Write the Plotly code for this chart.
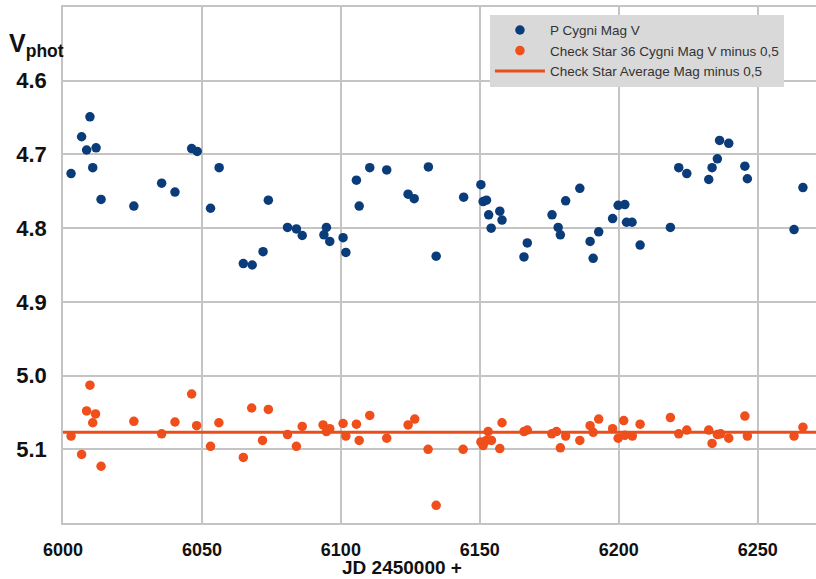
import plotly.graph_objects as go

# P Cygni Mag V
pcyg_jd = [6002.9, 6006.7, 6009.7, 6008.5, 6011.9, 6010.7, 6013.7, 6025.5, 6035.5, 6040.3,
           6046.3, 6048.3, 6053.1, 6056.2, 6064.9, 6068.1, 6072.0, 6073.9, 6080.8, 6084.0,
           6086.1, 6093.9, 6094.8, 6096.0, 6100.8, 6101.8, 6105.6, 6106.6, 6110.4, 6116.5,
           6124.2, 6126.4, 6131.5, 6134.3, 6144.2, 6150.4, 6151.2, 6152.4, 6153.2, 6154.1,
           6157.2, 6158.0, 6165.9, 6167.1, 6176.0, 6178.2, 6179.0, 6180.9, 6186.0, 6189.7,
           6190.8, 6192.8, 6197.8, 6199.8, 6202.2, 6202.8, 6204.8, 6207.7, 6218.6, 6221.6,
           6224.5, 6232.4, 6233.6, 6235.5, 6236.3, 6239.6, 6245.4, 6246.3, 6263.1, 6266.3]
pcyg_mag = [4.726, 4.676, 4.649, 4.694, 4.691, 4.718, 4.761, 4.770, 4.739, 4.751,
            4.692, 4.696, 4.773, 4.718, 4.848, 4.850, 4.832, 4.762, 4.799, 4.801,
            4.810, 4.809, 4.799, 4.818, 4.813, 4.833, 4.735, 4.770, 4.718, 4.721,
            4.754, 4.760, 4.717, 4.838, 4.758, 4.741, 4.764, 4.762, 4.782, 4.800,
            4.777, 4.789, 4.839, 4.820, 4.782, 4.799, 4.809, 4.763, 4.746, 4.818,
            4.841, 4.805, 4.787, 4.769, 4.768, 4.792, 4.792, 4.823, 4.799, 4.718,
            4.726, 4.734, 4.718, 4.706, 4.681, 4.685, 4.716, 4.733, 4.802, 4.745]

# Check Star 36 Cygni Mag V minus 0,5
check_jd = [6002.9, 6006.7, 6009.7, 6008.5, 6011.7, 6010.7, 6013.7, 6025.5, 6035.5, 6040.3,
            6046.3, 6048.1, 6053.1, 6056.1, 6064.9, 6067.9, 6073.9, 6071.8, 6080.8, 6084.0,
            6086.1, 6093.6, 6094.8, 6096.0, 6100.8, 6101.8, 6105.6, 6106.6, 6110.4, 6116.5,
            6124.2, 6126.6, 6131.4, 6134.3, 6144.0, 6153.0, 6150.4, 6151.2, 6152.4, 6154.2,
            6157.2, 6158.0, 6165.9, 6167.1, 6175.9, 6177.6, 6179.0, 6180.9, 6186.0, 6189.7,
            6190.8, 6192.8, 6197.8, 6199.8, 6202.2, 6204.9, 6201.8, 6207.7, 6218.6, 6221.6,
            6224.5, 6232.4, 6233.6, 6235.5, 6236.7, 6239.6, 6245.4, 6246.3, 6263.1, 6266.3]
check_mag = [5.082, 5.107, 5.013, 5.048, 5.052, 5.064, 5.123, 5.062, 5.079, 5.063,
             5.025, 5.068, 5.096, 5.064, 5.111, 5.044, 5.046, 5.088, 5.080, 5.096,
             5.069, 5.067, 5.076, 5.072, 5.065, 5.082, 5.066, 5.088, 5.054, 5.085,
             5.067, 5.059, 5.100, 5.176, 5.100, 5.076, 5.090, 5.095, 5.088, 5.088,
             5.099, 5.064, 5.076, 5.074, 5.079, 5.076, 5.098, 5.082, 5.088, 5.068,
             5.077, 5.059, 5.072, 5.085, 5.081, 5.082, 5.061, 5.066, 5.057, 5.079,
             5.074, 5.074, 5.092, 5.080, 5.079, 5.085, 5.055, 5.082, 5.082, 5.070]

# Check Star Average Mag minus 0,5
avg_jd = [6000, 6271]
avg_mag = [5.077, 5.077]

x_ticks = [6000, 6050, 6100, 6150, 6200, 6250]
y_ticks = [4.6, 4.7, 4.8, 4.9, 5.0, 5.1]
y_tick_text = ["4.6", "4.7", "4.8", "4.9", "5.0", "5.1"]

BLUE = "#0b3c7a"
ORANGE = "#f04e1a"
LINE_ORANGE = "#e84f1c"

fig = go.Figure()
fig.add_trace(go.Scatter(x=pcyg_jd, y=pcyg_mag, mode="markers", name="P Cygni Mag V",
                         marker=dict(color=BLUE, size=9.5, symbol="circle")))
fig.add_trace(go.Scatter(x=check_jd, y=check_mag, mode="markers",
                         name="Check Star 36 Cygni Mag V minus 0,5",
                         marker=dict(color=ORANGE, size=9.5, symbol="circle")))
fig.add_trace(go.Scatter(x=avg_jd, y=avg_mag, mode="lines",
                         name="Check Star Average Mag minus 0,5",
                         line=dict(color=LINE_ORANGE, width=3)))

fig.update_layout(
    width=816, height=579,
    margin=dict(l=63, r=0, t=7, b=56, autoexpand=False),
    paper_bgcolor="white", plot_bgcolor="white",
    font=dict(family="Liberation Sans, Arial, sans-serif", color="#111111"),
    showlegend=True,
    legend=dict(x=0.567, y=0.985, xanchor="left", yanchor="top",
                bgcolor="#d9d9d9", borderwidth=0,
                font=dict(size=13.5, color="#333333"),
                tracegroupgap=0, itemwidth=50),
    annotations=[
        dict(text="<b>V</b><b><sub>phot</sub></b>", xref="paper", yref="paper",
             x=-0.074, y=0.927, xanchor="left", yanchor="middle", showarrow=False,
             font=dict(size=25, color="#111111", family="Liberation Sans, Arial, sans-serif")),
        dict(text="<b>JD 2450000 +</b>", xref="paper", yref="paper",
             x=0.45, y=-0.086, xanchor="center", yanchor="middle", showarrow=False,
             borderpad=0,
             font=dict(size=19, color="#111111", family="Liberation Sans, Arial, sans-serif")),
    ],
)

fig.update_xaxes(
    range=[6000, 6271], tickvals=x_ticks, ticktext=[f"<b>{v}</b>" for v in x_ticks],
    tickfont=dict(size=18, color="#111111"),
    ticks="outside", ticklen=10, tickcolor="rgba(0,0,0,0)",
    showgrid=True, gridcolor="#c4c4c4", gridwidth=1.5,
    showline=True, linecolor="#c4c4c4", linewidth=1.5, mirror=True,
    zeroline=False, automargin=False,
)
fig.update_yaxes(
    range=[5.2, 4.5], tickvals=y_ticks, ticktext=[f"<b>{t}</b>" for t in y_tick_text],
    tickfont=dict(size=22, color="#111111"),
    ticks="outside", ticklen=10, tickcolor="rgba(0,0,0,0)",
    showgrid=True, gridcolor="#c4c4c4", gridwidth=1.5,
    showline=True, linecolor="#c4c4c4", linewidth=1.5, mirror=False,
    zeroline=False, automargin=False,
)

fig.write_html("out.html")
